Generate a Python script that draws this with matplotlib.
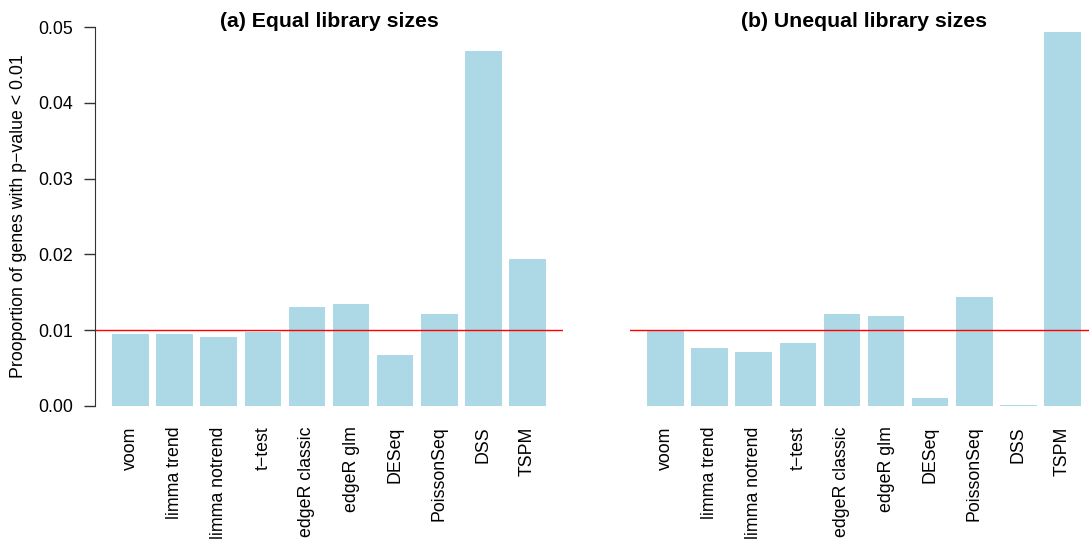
import numpy as np
import matplotlib.pyplot as plt

plt.rcParams['font.family'] = ['Liberation Sans', 'DejaVu Sans']

methods = ['voom', 'limma trend', 'limma notrend', 't\u2212test', 'edgeR classic',
           'edgeR glm', 'DESeq', 'PoissonSeq', 'DSS', 'TSPM']

# proportion of genes with p-value < 0.01
equal_sizes = [0.0095, 0.0095, 0.0091, 0.0098, 0.0131, 0.0135, 0.0067, 0.0121, 0.0468, 0.0194]
unequal_sizes = [0.0099, 0.0077, 0.0071, 0.0083, 0.0121, 0.0119, 0.0011, 0.0144, 0.0001, 0.0493]
titles = ['(a) Equal library sizes', '(b) Unequal library sizes']
cutoff = 0.01

bar_color = '#ADD8E6'
W, H = 1089, 545

fig = plt.figure(figsize=(W / 100, H / 100), dpi=100)

# plot regions in pixels (left, right, top, bottom), like R's par layout
regions = [(95, 563, 12, 421), (630, 1098, 12, 421)]

# R barplot: width 1, space 0.2
x_left = 0.2 + 1.2 * np.arange(len(methods))
x_mid = x_left + 0.5
xmin, xmax = 0.2, x_left[-1] + 1
pad = 0.04 * (xmax - xmin)

for k, values in enumerate([equal_sizes, unequal_sizes]):
    l, r, t, b = regions[k]
    ax = fig.add_axes([l / W, 1 - b / H, (r - l) / W, (b - t) / H])
    ax.bar(x_mid, values, width=1.0, color=bar_color, edgecolor='none')
    ax.axhline(cutoff, color='red', lw=1.0)
    ax.set_xlim(xmin - pad, xmax + pad)
    ax.set_ylim(-0.002, 0.052)

    for s in ['top', 'right', 'bottom']:
        ax.spines[s].set_visible(False)

    ax.set_xticks(x_mid)
    ax.set_xticklabels(methods, rotation=90, fontsize=12.8)
    ax.tick_params(axis='x', length=0, pad=4)

    if k == 0:
        ax.spines['left'].set_bounds(0, 0.05)
        ax.spines['left'].set_color('#333333')
        ax.set_yticks([0.0, 0.01, 0.02, 0.03, 0.04, 0.05])
        ax.set_yticklabels(['0.00', '0.01', '0.02', '0.03', '0.04', '0.05'], fontsize=12.8)
        ax.tick_params(axis='y', length=8, width=1, color='#333333', pad=8)
        ax.set_ylabel('Prooportion of genes with p\u2212value < 0.01', fontsize=12.8, labelpad=8)
    else:
        ax.spines['left'].set_visible(False)
        ax.set_yticks([])

    # title sits partly inside the plot region, as in R
    fig.text((l + r) / 2 / W, 1 - 27 / H, titles[k], ha='center', va='baseline',
             fontsize=15.3, fontweight='bold')

fig.savefig('out.png', dpi=100)
